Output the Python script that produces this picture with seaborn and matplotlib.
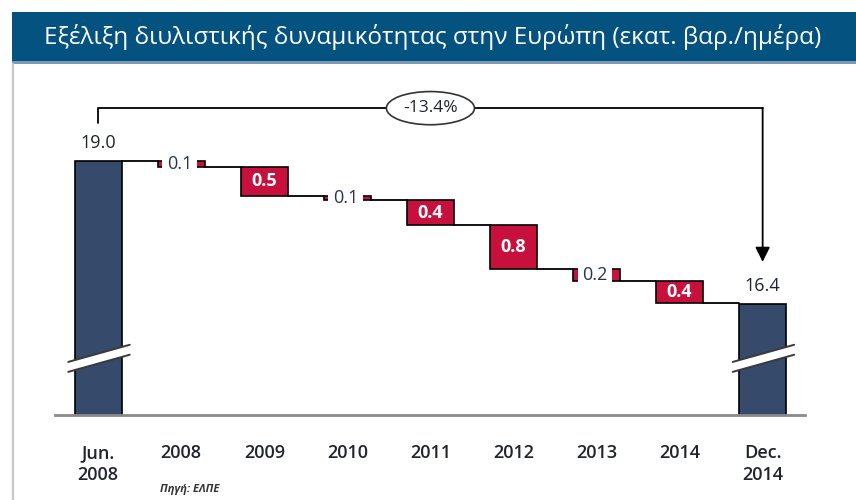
import numpy as np
import pandas as pd
import matplotlib
matplotlib.use("Agg")
import matplotlib.pyplot as plt
from matplotlib.patches import Rectangle, Ellipse, Polygon
import seaborn as sns

# Δεδομένα (εκατ. βαρ./ημέρα)
categories = ["Jun.\n2008", "2008", "2009", "2010", "2011", "2012", "2013", "2014", "Dec.\n2014"]
start_value = 19.0
end_value = 16.4
step_changes = [0.12, 0.51, 0.09, 0.44, 0.80, 0.21, 0.41]
step_labels = ["0.1", "0.5", "0.1", "0.4", "0.8", "0.2", "0.4"]
total_change = "-13.4%"
title_text = "Εξέλιξη διυλιστικής δυναμικότητας στην Ευρώπη (εκατ. βαρ./ημέρα)"
source_text = "Πηγή: ΕΛΠΕ"

navy = "#364a6b"
red = "#c8103d"
title_blue = "#03527f"
text_dark = "#1f2430"
bar_w = 0.57

sns.set_style("white")
plt.rcParams["font.family"] = ["Open Sans", "DejaVu Sans"]

fig = plt.figure(figsize=(8.56, 5.0), dpi=100)
ax = fig.add_axes([55 / 856, 85 / 500, 750 / 856, 345 / 500])

# --- Σύνολα (αρχή / τέλος) με seaborn
totals = pd.DataFrame({"period": [categories[0], categories[-1]],
                       "value": [start_value, end_value]})
sns.barplot(data=totals, x="period", y="value", order=categories, color=navy,
            saturation=1, width=bar_w, edgecolor="black", linewidth=1.2,
            errorbar=None, ax=ax)

# --- Ενδιάμεσες μεταβολές (πλωτές μπάρες)
levels = start_value - np.cumsum(step_changes)
x_steps = np.arange(1, len(categories) - 1)
ax.bar(x_steps, step_changes, bottom=levels, width=bar_w, color=red,
       edgecolor="black", linewidth=1.2, zorder=2)

# γραμμές σύνδεσης
conn_levels = np.concatenate([[start_value], levels])
for i, lvl in enumerate(conn_levels):
    ax.plot([i + bar_w / 2, i + 1 - bar_w / 2], [lvl, lvl], color="black", lw=1.3, zorder=2)

# ετικέτες μεταβολών
for x, ch, lab, lvl in zip(x_steps, step_changes, step_labels, levels):
    ymid = lvl + ch / 2
    if ch >= 0.3:
        ax.text(x, ymid, lab, ha="center", va="center", color="white",
                fontsize=13, fontweight="bold", zorder=5)
    else:
        ax.text(x - 0.02, ymid, lab, ha="center", va="center", color="#253450",
                fontsize=13, zorder=5,
                bbox=dict(boxstyle="square,pad=0.25", fc="white", ec="none"))

# ετικέτες συνόλων
ax.text(0, start_value + 0.32, f"{start_value:.1f}", ha="center", va="center",
        fontsize=13, color=text_dark)
ax.text(len(categories) - 1, end_value + 0.33, f"{end_value:.1f}", ha="center",
        va="center", fontsize=13, color=text_dark)

# σημάδια διακοπής άξονα
def axis_break(xc):
    x0, x1 = xc - 0.36, xc + 0.38
    up0, up1 = 15.36, 15.67
    lo0, lo1 = 15.18, 15.49
    ax.add_patch(Polygon([[x0, up0], [x1, up1], [x1, lo1], [x0, lo0]], closed=True,
                         fc="white", ec="none", zorder=3))
    ax.plot([x0, x1], [up0, up1], color="#3a3a3a", lw=1.4, zorder=3)
    ax.plot([x0, x1], [lo0, lo1], color="#3a3a3a", lw=1.4, zorder=3)

axis_break(0)
axis_break(len(categories) - 1)

# αγκύλη συνολικής μεταβολής
bracket_y = 19.95
last = len(categories) - 1
ax.plot([0, 0, last], [19.68, bracket_y, bracket_y], color="black", lw=1.3, zorder=4)
ax.annotate("", xy=(last, 17.17), xytext=(last, bracket_y),
            arrowprops=dict(arrowstyle="-|>", color="black", lw=1.3,
                            mutation_scale=22, shrinkA=0, shrinkB=0), zorder=4)
ax.add_patch(Ellipse((4.0, bracket_y), width=1.06, height=0.6, fc="white",
                     ec="#333333", lw=1.2, zorder=5))
ax.text(4.0, bracket_y, total_change, ha="center", va="center", fontsize=12.5,
        color=text_dark, zorder=6)

# άξονες
ax.set_xlim(-0.52, 8.51)
ax.set_ylim(14.40, 20.64)
ax.set_yticks([])
ax.set_xlabel("")
ax.set_ylabel("")
for side in ["top", "right", "left"]:
    ax.spines[side].set_visible(False)
ax.spines["bottom"].set_color("#8a8a8a")
ax.spines["bottom"].set_linewidth(2)
ax.spines["bottom"].set_zorder(4)
ax.tick_params(axis="x", length=0, pad=21)
ax.set_xticks(range(len(categories)))
ax.set_xticklabels(categories, fontsize=13, fontweight="semibold", color=text_dark,
                   linespacing=1.3)

# τίτλος σε μπλε ταινία
fig.patches.append(Rectangle((12 / 856, 439 / 500), 844 / 856, 49 / 500,
                             transform=fig.transFigure, fc=title_blue, ec="none"))
fig.patches.append(Rectangle((12 / 856, 436 / 500), 844 / 856, 3 / 500,
                             transform=fig.transFigure, fc="#7d9ab3", ec="none"))
fig.lines.append(plt.Line2D([13.5 / 856, 13.5 / 856], [0, 436 / 500],
                            transform=fig.transFigure, color="#c8c8c8", lw=1.6))
fig.text(44 / 856, 463 / 500, title_text, color="white", fontsize=17.5,
         ha="left", va="center")

# πηγή
fig.text(160 / 856, 11 / 500, source_text, fontsize=8, fontstyle="italic",
         fontweight="bold", color="#333333", ha="left", va="center")

fig.savefig("out.png", dpi=100)
